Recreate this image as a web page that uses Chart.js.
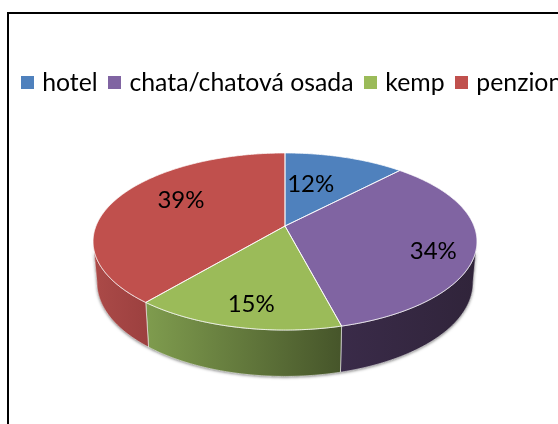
<!DOCTYPE html>
<html><head><meta charset="utf-8">
<script src="https://cdn.jsdelivr.net/npm/chart.js@4"></script>
<style>
html,body{margin:0;padding:0;background:#fff;width:558px;height:424px;overflow:hidden}
#frame{position:absolute;left:7px;top:12px;width:600px;height:500px;border-left:2px solid #000;border-top:2px solid #000}
#wrap{position:absolute;left:0;top:0;width:587px;height:424px}
</style></head><body>
<div id="frame"></div>
<div id="wrap"><canvas id="c" width="587" height="424"></canvas></div>
<script>
const categories=['hotel','chata/chatová osada','kemp','penzion'];
const shares=[12,34,15,39];
const sliceColors=['#4f81bd','#8064a2','#9bbb59','#c0504d'];
const wallLeft=['#3b618e','#3a2b49','#7f9c4e','#ab4a48'];
const wallRight=['#3b618e','#30243a','#46552a','#9c403f'];
const labelFont='"Lato"';
const legendPx=24.8, valuePx=24;

// perspective geometry of the disc
const G={cx:285,cy:226,R:189,a:85.8,k:0.175,depth:40,shrink:0.98};
const labelU=[.37,.81,.82,.585], labelV=[.526,1.17,.94,.89];

function proj(ang,low){
  const u=Math.cos(ang),v=Math.sin(ang),s=1/(1-G.k*v),b=low?G.shrink:1;
  return [G.cx+G.R*b*u*s, G.cy+G.a*b*v*s+(low?G.depth*s:0)];
}
function arcPts(a0,a1,low){
  const n=Math.max(2,Math.ceil(Math.abs(a1-a0)/0.01)),p=[];
  for(let i=0;i<=n;i++)p.push(proj(a0+(a1-a0)*i/n,low));
  return p;
}
function trace(ctx,pts){ctx.beginPath();pts.forEach((q,i)=>i?ctx.lineTo(q[0],q[1]):ctx.moveTo(q[0],q[1]));ctx.closePath();}
function marker(color){
  const m=document.createElement('canvas');m.width=13;m.height=13;
  const x=m.getContext('2d');x.fillStyle=color;x.fillRect(0,0,13,13);
  return m;
}

const pie3d={
  id:'pie3d',
  beforeDatasetsDraw(chart){
    const ctx=chart.ctx,arcs=chart.getDatasetMeta(0).data;
    const lim0=Math.asin(G.k),lim1=Math.PI-lim0;
    ctx.save();
    const hull=arcPts(lim0,lim1,true).concat(arcPts(lim1,lim0,false));
    ctx.save();ctx.shadowColor='rgba(0,0,0,.5)';ctx.shadowBlur=3;ctx.shadowOffsetY=1;
    trace(ctx,hull);ctx.fillStyle='#555';ctx.fill();ctx.restore();
    arcs.forEach((el,i)=>{
      const A=Math.max(el.startAngle,lim0),B=Math.min(el.endAngle,lim1);
      if(B<=A)return;
      const pts=arcPts(A,B,false).concat(arcPts(B,A,true));
      const xs=pts.map(p=>p[0]),x0=Math.min(...xs),x1=Math.max(...xs);
      const g=ctx.createLinearGradient(x0,0,x1,0);
      g.addColorStop(0,wallLeft[i]);g.addColorStop(1,wallRight[i]);
      trace(ctx,pts);ctx.fillStyle=g;ctx.fill();
      ctx.strokeStyle='rgba(255,255,255,.7)';ctx.lineWidth=.8;ctx.stroke();
    });
    arcs.forEach((el,i)=>{
      const pts=[[G.cx,G.cy]].concat(arcPts(el.startAngle,el.endAngle,false));
      trace(ctx,pts);ctx.fillStyle=el.options.backgroundColor;ctx.fill();
    });
    arcs.forEach((el)=>{
      const pts=[[G.cx,G.cy]].concat(arcPts(el.startAngle,el.endAngle,false));
      trace(ctx,pts);ctx.strokeStyle='rgba(255,255,255,.75)';ctx.lineWidth=1;ctx.stroke();
    });
    const total=shares.reduce((s,x)=>s+x,0);
    ctx.fillStyle='#000';ctx.font=valuePx+'px '+labelFont;ctx.textAlign='center';ctx.textBaseline='middle';
    arcs.forEach((el,i)=>{
      const m=(el.startAngle+el.endAngle)/2;
      const x=G.cx+G.R*Math.cos(m)*labelU[i],y=G.cy+G.a*Math.sin(m)*labelV[i];
      ctx.fillText(Math.round(shares[i]/total*100)+'%',x,y);
    });
    ctx.restore();
    return false;
  }
};

new Chart(document.getElementById('c'),{
  type:'pie',
  data:{labels:categories,datasets:[{data:shares,backgroundColor:sliceColors,borderWidth:0}]},
  plugins:[pie3d],
  options:{
    responsive:false,animation:false,
    layout:{padding:{top:56}},
    plugins:{
      tooltip:{enabled:false},
      legend:{position:'top',labels:{
        usePointStyle:true,pointStyleWidth:5,boxHeight:13,padding:14.4,color:'#000',
        font:{family:labelFont,size:legendPx},
        generateLabels(chart){
          return Chart.overrides.pie.plugins.legend.labels.generateLabels(chart)
            .map((it,i)=>Object.assign(it,{pointStyle:marker(sliceColors[i])}));
        }
      }}
    }
  }
});
</script>
</body></html>
